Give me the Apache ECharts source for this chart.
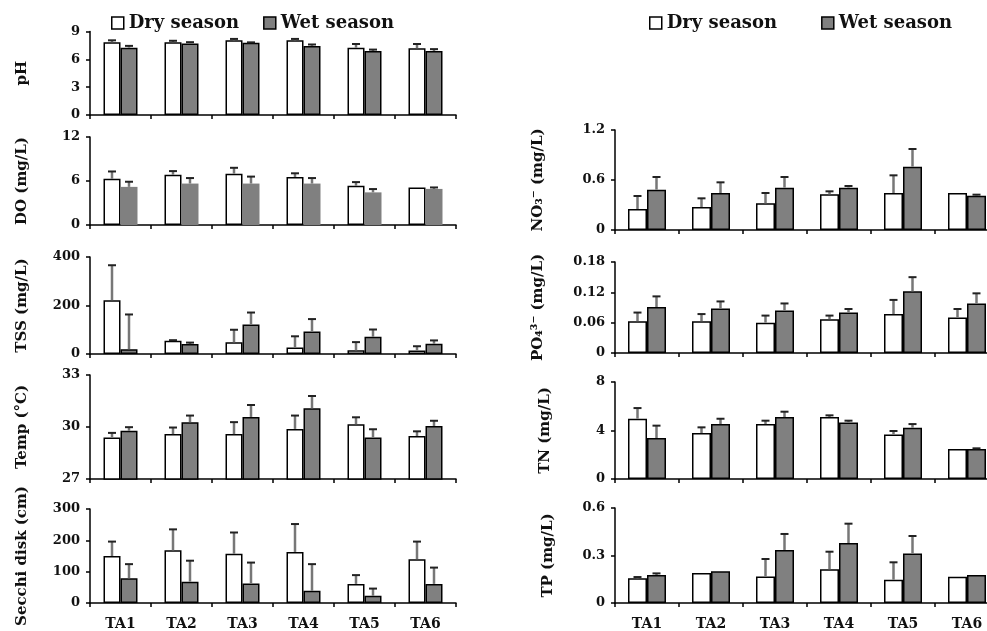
<!DOCTYPE html>
<html>
<head>
<meta charset="utf-8">
<script src="https://cdn.jsdelivr.net/npm/echarts@6/dist/echarts.min.js"></script>
<style>
html,body{margin:0;padding:0;background:#fff;overflow:hidden;}
#chart{width:1000px;height:631px;}
</style>
</head>
<body>
<div id="chart"></div>
<script>
// ---- data ----
const categories = ['TA1', 'TA2', 'TA3', 'TA4', 'TA5', 'TA6'];
const seriesNames = ['Dry season', 'Wet season'];

const phDry = [7.85, 7.85, 8.05, 8.05, 7.25, 7.2];
const phDryErr = [0.2, 0.15, 0.15, 0.15, 0.4, 0.45];
const phWet = [7.25, 7.7, 7.8, 7.45, 6.9, 6.9];
const phWetErr = [0.2, 0.15, 0.03, 0.15, 0.15, 0.2];

const doDry = [6.3, 6.85, 7.0, 6.55, 5.35, 5.1];
const doDryErr = [1.0, 0.5, 0.8, 0.5, 0.5, 0];
const doWet = [5.2, 5.65, 5.65, 5.65, 4.45, 4.92];
const doWetErr = [0.7, 0.75, 0.95, 0.75, 0.45, 0.2];

const tssDry = [222, 55, 48, 27, 15, 14];
const tssDryErr = [144, 2, 52, 46, 34, 18];
const tssWet = [20, 41, 122, 93, 71, 42];
const tssWetErr = [143, 6, 49, 51, 30, 14];

const tempDry = [29.39, 29.59, 29.59, 29.89, 30.16, 29.48];
const tempDryErr = [0.27, 0.38, 0.69, 0.77, 0.4, 0.27];
const tempWet = [29.78, 30.28, 30.58, 31.08, 29.39, 30.06];
const tempWetErr = [0.21, 0.38, 0.69, 0.71, 0.48, 0.3];

const secchiDry = [150, 168, 157, 163, 61, 140];
const secchiDryErr = [46, 67, 68, 89, 28, 56];
const secchiWet = [79, 68, 62, 39, 23, 61];
const secchiWetErr = [45, 67, 67, 85, 23, 52];

const no3Dry = [0.252, 0.276, 0.32, 0.428, 0.444, 0.444];
const no3DryErr = [0.156, 0.104, 0.124, 0.036, 0.212, 0];
const no3Wet = [0.484, 0.444, 0.508, 0.508, 0.76, 0.412];
const no3WetErr = [0.152, 0.128, 0.128, 0.02, 0.212, 0.012];

const po4Dry = [0.063, 0.063, 0.060, 0.067, 0.077, 0.070];
const po4DryErr = [0.017, 0.014, 0.014, 0.007, 0.028, 0.017];
const po4Wet = [0.091, 0.088, 0.084, 0.080, 0.122, 0.098];
const po4WetErr = [0.021, 0.014, 0.014, 0.007, 0.028, 0.020];

const tnDry = [4.97, 3.79, 4.53, 5.11, 3.68, 2.47];
const tnDryErr = [0.88, 0.47, 0.28, 0.14, 0.28, 0];
const tnWet = [3.38, 4.53, 5.11, 4.67, 4.23, 2.47];
const tnWetErr = [1.02, 0.44, 0.44, 0.14, 0.3, 0.06];

const tpDry = [0.156, 0.189, 0.168, 0.213, 0.147, 0.166];
const tpDryErr = [0.008, 0, 0.11, 0.111, 0.11, 0];
const tpWet = [0.177, 0.2, 0.335, 0.379, 0.312, 0.177];
const tpWetErr = [0.01, 0, 0.101, 0.122, 0.111, 0];

// axis names and scales
const axisNames = ['pH', 'DO (mg/L)', 'TSS (mg/L)', 'Temp (\u00B0C)', 'Secchi disk (cm)',
  'NO\u2083\u207B (mg/L)', 'PO\u2084\u00B3\u207B (mg/L)', 'TN (mg/L)', 'TP (mg/L)'];
const yMin = [0, 0, 0, 27, 0, 0, 0, 0, 0];
const yMax = [9, 12, 400, 33, 300, 1.2, 0.18, 8, 0.6];
const yInterval = [3, 6, 200, 3, 100, 0.6, 0.06, 4, 0.3];

const dryValues = [phDry, doDry, tssDry, tempDry, secchiDry, no3Dry, po4Dry, tnDry, tpDry];
const dryErrors = [phDryErr, doDryErr, tssDryErr, tempDryErr, secchiDryErr, no3DryErr, po4DryErr, tnDryErr, tpDryErr];
const wetValues = [phWet, doWet, tssWet, tempWet, secchiWet, no3Wet, po4Wet, tnWet, tpWet];
const wetErrors = [phWetErr, doWetErr, tssWetErr, tempWetErr, secchiWetErr, no3WetErr, po4WetErr, tnWetErr, tpWetErr];

// ---- layout ----
const panels = [
  {left: 90, width: 366, top: 31.5, height: 83.5, gap: 60, labels: false, bw: 17},
  {left: 90, width: 366, top: 137, height: 88, gap: 60, labels: false, bw: 17, noWetBorder: true},
  {left: 90, width: 366, top: 257, height: 97, gap: 60, labels: false, bw: 17},
  {left: 90, width: 366, top: 375, height: 104, gap: 60, labels: false, bw: 17},
  {left: 90, width: 366, top: 509, height: 94, gap: 60, labels: true, bw: 17},
  {left: 615, width: 384, top: 130, height: 100, gap: 69, labels: false, bw: 19},
  {left: 615, width: 384, top: 262, height: 91, gap: 69, labels: false, bw: 19},
  {left: 615, width: 384, top: 382, height: 97, gap: 62, labels: false, bw: 19},
  {left: 615, width: 384, top: 508, height: 95, gap: 59, labels: true, bw: 19}
];

const FONT = 'DejaVu Serif';
const TXT = '#111';

const grids = [], xAxes = [], yAxes = [], series = [];

function errSeries(i, vals, errs, side, bw) {
  return {
    type: 'custom',
    name: 'err' + i + side,
    xAxisIndex: i, yAxisIndex: i,
    z: 10,
    silent: true,
    clip: false,
    encode: {x: 0, y: 1},
    data: vals.map((v, k) => [k, v, errs[k]]),
    renderItem: function (params, api) {
      const idx = api.value(0), v = api.value(1), e = api.value(2);
      if (!(e > 0)) return null;
      const base = api.coord([idx, v]);
      const top = api.coord([idx, v + e]);
      const x = base[0] + side * bw / 2;
      return {
        type: 'group',
        children: [
          {type: 'line', shape: {x1: x, y1: base[1], x2: x, y2: top[1]}, style: {stroke: '#777', lineWidth: 2.5}},
          {type: 'line', shape: {x1: x - 4, y1: top[1], x2: x + 4, y2: top[1]}, style: {stroke: '#222', lineWidth: 2}}
        ]
      };
    }
  };
}

panels.forEach((p, i) => {
  grids.push({left: p.left, top: p.top, width: p.width, height: p.height, containLabel: false});
  xAxes.push({
    type: 'category', gridIndex: i, data: categories,
    axisLine: {lineStyle: {color: '#000', width: 1.5}},
    axisTick: {show: true, length: 4, lineStyle: {color: '#000', width: 1.5}},
    axisLabel: {show: p.labels, margin: 14, color: TXT, fontFamily: FONT, fontWeight: 'bold', fontSize: 14},
    splitLine: {show: false}
  });
  yAxes.push({
    type: 'value', gridIndex: i, min: yMin[i], max: yMax[i], interval: yInterval[i],
    name: axisNames[i], nameLocation: 'middle', nameRotate: 90, nameGap: p.gap,
    nameTextStyle: {color: TXT, fontFamily: FONT, fontWeight: 'bold', fontSize: 15},
    axisLine: {show: true, lineStyle: {color: '#000', width: 1.5}},
    axisTick: {show: true, length: 4, lineStyle: {color: '#000', width: 1.5}},
    axisLabel: {margin: 10, color: TXT, fontFamily: FONT, fontWeight: 'bold', fontSize: 13},
    splitLine: {show: false}
  });
  series.push({
    type: 'bar', name: seriesNames[0], xAxisIndex: i, yAxisIndex: i,
    data: dryValues[i], barWidth: p.bw, barGap: '0%',
    itemStyle: {color: '#fff', borderColor: '#000', borderWidth: 1.5}
  });
  series.push({
    type: 'bar', name: seriesNames[1], xAxisIndex: i, yAxisIndex: i,
    data: wetValues[i], barWidth: p.bw, barGap: '0%',
    itemStyle: p.noWetBorder ? {color: '#808080', borderWidth: 0} : {color: '#808080', borderColor: '#000', borderWidth: 1.5}
  });
  series.push(errSeries(i, dryValues[i], dryErrors[i], -1, p.bw));
  series.push(errSeries(i, wetValues[i], wetErrors[i], 1, p.bw));
});

const legendData = [
  {name: seriesNames[0], itemStyle: {color: '#fff', borderColor: '#000', borderWidth: 1.5}},
  {name: seriesNames[1], itemStyle: {color: '#808080', borderColor: '#000', borderWidth: 1.5}}
];
const legendText = {color: TXT, fontFamily: FONT, fontWeight: 'bold', fontSize: 18};

const option = {
  animation: false,
  backgroundColor: '#fff',
  legend: [
    {data: legendData, left: 111, top: 14, icon: 'rect', itemWidth: 12, itemHeight: 12, itemGap: 24, selectedMode: false, textStyle: legendText, padding: 0},
    {data: legendData, left: 649, top: 14, icon: 'rect', itemWidth: 12, itemHeight: 12, itemGap: 44, selectedMode: false, textStyle: legendText, padding: 0}
  ],
  grid: grids,
  xAxis: xAxes,
  yAxis: yAxes,
  series: series
};

const chart = echarts.init(document.getElementById('chart'), null, {renderer: 'canvas'});
chart.setOption(option);
</script>
</body>
</html>
